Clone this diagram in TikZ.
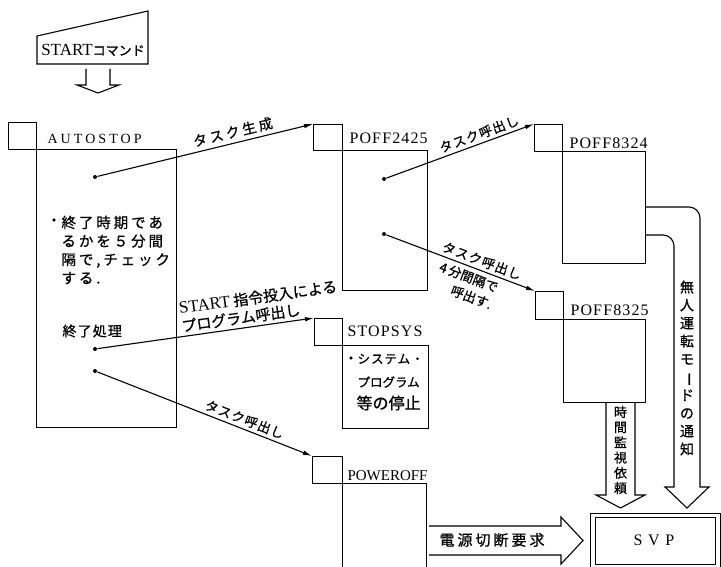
\documentclass[tikz,border=0pt]{standalone}
\usepackage{fontspec}
\setmainfont{Liberation Serif}
\newfontfamily\ser{Liberation Serif}
\newfontfamily\serA[LetterSpace=22]{Liberation Serif}
\newfontfamily\serB[LetterSpace=7]{Liberation Serif}
\newfontfamily\serC[LetterSpace=35]{Liberation Serif}
\newfontfamily\jp[FakeBold=0.8]{Noto Sans CJK JP}
\newfontfamily\jpA[LetterSpace=20,FakeBold=0.8]{Noto Sans CJK JP}
\newfontfamily\jpB[LetterSpace=8,FakeBold=0.8]{Noto Sans CJK JP}
\newcommand\myfs[2]{\fontsize{#1}{#2}\selectfont}
\usetikzlibrary{arrows.meta}
\begin{document}
\begin{tikzpicture}[x=1pt,y=-1pt,line width=1.1pt,
  sq/.style={draw,anchor=north west,inner sep=0pt,minimum width=28pt,minimum height=27pt},
  box/.style={draw,anchor=north west,inner sep=0pt},
  dot/.style={circle,fill,inner sep=0pt,minimum size=4pt},
  arr/.style={-{Latex[length=9pt,width=4.5pt]}},
  txt/.style={inner sep=0pt},
  blockarrow/.style={line width=1.1pt,line join=miter}]
\useasboundingbox (0,0) rectangle (721,567);

% START command
\node[txt] (startcmd) at (93,50) {\ser\myfs{17}{17}START\jp\myfs{13}{13}コマンド};
\draw (37,64) -- (37,36) -- (148,11) -- (148,64) -- cycle;
\draw[blockarrow] (86,69) -- (86,85) -- (77,85) -- (98,93) -- (119,85) -- (110,85) -- (110,69);

% AUTOSTOP
\node[sq] (autosq) at (8,122) {};
\node[box,minimum width=140pt,minimum height=278pt] (auto) at (36,149) {};
\node[txt,anchor=west,font=\serA\myfs{14}{14}] (autolbl) at (47,139) {AUTOSTOP};
\node[txt] (autobul) at (54,222) {\jp\myfs{14.5}{14.5}・};
\node[txt,anchor=west,align=left,font=\jpA\myfs{14.5}{18.5}] (autotxt) at (61,250) {終了時期であ\\るかを５分間\\隔で,チェック\\する.};
\node[txt,anchor=west,font=\jpB\myfs{14}{14}] (endproc) at (62,331) {終了処理};
\node[dot] (d1) at (95,177) {};
\node[dot] (d2) at (95,349) {};
\node[dot] (d3) at (95,371) {};

% POFF2425
\node[sq,minimum width=29pt,minimum height=26pt] (p24sq) at (313,124) {};
\node[box,minimum width=85pt,minimum height=140pt] (p24) at (342,150) {};
\node[txt,anchor=west,font=\serB\myfs{16}{16}] (p24lbl) at (349,138) {POFF2425};
\node[dot] (d4) at (384,179) {};
\node[dot] (d5) at (384,234) {};

% POFF8324
\node[sq] (p83sq) at (534,124) {};
\node[box,minimum width=83pt,minimum height=112pt] (p83) at (562,151) {};
\node[txt,anchor=west,font=\serB\myfs{16}{16}] (p83lbl) at (569,143) {POFF8324};

% POFF8325
\node[sq,minimum height=28pt] (p85sq) at (535,291) {};
\node[box,minimum width=82pt,minimum height=83pt] (p85) at (563,319) {};
\node[txt,anchor=west,font=\serB\myfs{16}{16}] (p85lbl) at (570,310) {POFF8325};

% STOPSYS
\node[sq] (sssq) at (314,318) {};
\node[box,minimum width=86pt,minimum height=83pt] (ss) at (342,345) {};
\node[txt,anchor=west,font=\serB\myfs{16}{16}] (sslbl) at (347,331) {STOPSYS};
\node[txt] (ssbul) at (351,359) {\jp\myfs{12}{12}•};
\node[txt,anchor=west,font=\jpB\myfs{12.5}{12.5}] (ss1) at (357,359) {システム・};
\node[txt,anchor=west,font=\jp\myfs{12.5}{12.5}] (ss2) at (357,382) {プログラム};
\node[txt,anchor=west,font=\jp\myfs{16}{16}] (ss3) at (356,403) {等の停止};

% POWEROFF
\node[sq,minimum width=30pt] (posq) at (312,456) {};
\node[box,minimum width=84pt,minimum height=90pt] (po) at (342,483) {};
\node[txt,anchor=west,font=\ser\myfs{15}{15}] (polbl) at (347,476) {POWEROFF};

% SVP
\node[box,minimum width=130pt,minimum height=60pt] (svpout) at (590,513) {};
\node[box,minimum width=120pt,minimum height=47pt] (svp) at (595,517) {};
\node[txt,font=\serC\myfs{16}{16}] (svplbl) at (654,540) {SVP};

% connectors
\draw[arr] (d1) -- node[txt,sloped,above=4pt,pos=0.64,font=\jpA\myfs{14}{14}] (l1) {タスク生成} (p24sq.north west);
\draw[arr] (d2) -- node[txt,sloped,above=3pt,pos=0.76,align=left,font=\jp\myfs{15}{18}] (l2) {{\ser\myfs{17}{17}START} 指令投入による\\プログラム呼出し} (sssq.north west);
\draw[arr] (d3) -- node[txt,sloped,above=3pt,pos=0.67,font=\jpB\myfs{13}{13}] (l3) {タスク呼出し} (posq.north west);
\draw[arr] (d4) -- node[txt,sloped,above=3pt,pos=0.65,font=\jpB\myfs{13}{13}] (l4) {タスク呼出し} (p83sq.north west);
\draw[arr] (d5) -- node[txt,sloped,above=3pt,pos=0.62,font=\jpB\myfs{13}{13}] (l5) {タスク呼出し}
  node[txt,sloped,below=4pt,pos=0.58,align=right,font=\jp\myfs{13}{18}] (l6) {4\,分間隔で\\呼出す.} (p85sq.north west);

% block arrows
\draw[blockarrow] (606,402) -- (606,495) -- (596,495) -- (620.5,508) -- (645,495) -- (635,495) -- (635,402);
\node[txt,align=center,font=\jp\myfs{13}{15.2}] (tm) at (620.5,450) {時\\間\\監\\視\\依\\頼};

\draw[blockarrow] (645,207) -- (689,207) arc[start angle=-90,end angle=0,radius=11] -- (700,487) -- (709,487) -- (687,508) -- (665,487) -- (674,487) -- (674,246) arc[start angle=0,end angle=-90,radius=11] -- (645,235);
\node[txt,align=center,font=\jp\myfs{14}{18}] (mu) at (687,368) {無\\人\\運\\転\\モ\\\rotatebox[origin=c]{-90}{ー}\\ド\\の\\通\\知};

\draw[blockarrow] (429,526) -- (561,526) -- (561,517) -- (583,540.5) -- (561,564) -- (561,555) -- (429,555);
\node[txt,font=\jpA\myfs{15}{15}] (pw) at (492,540) {電源切断要求};
\end{tikzpicture}
\end{document}
